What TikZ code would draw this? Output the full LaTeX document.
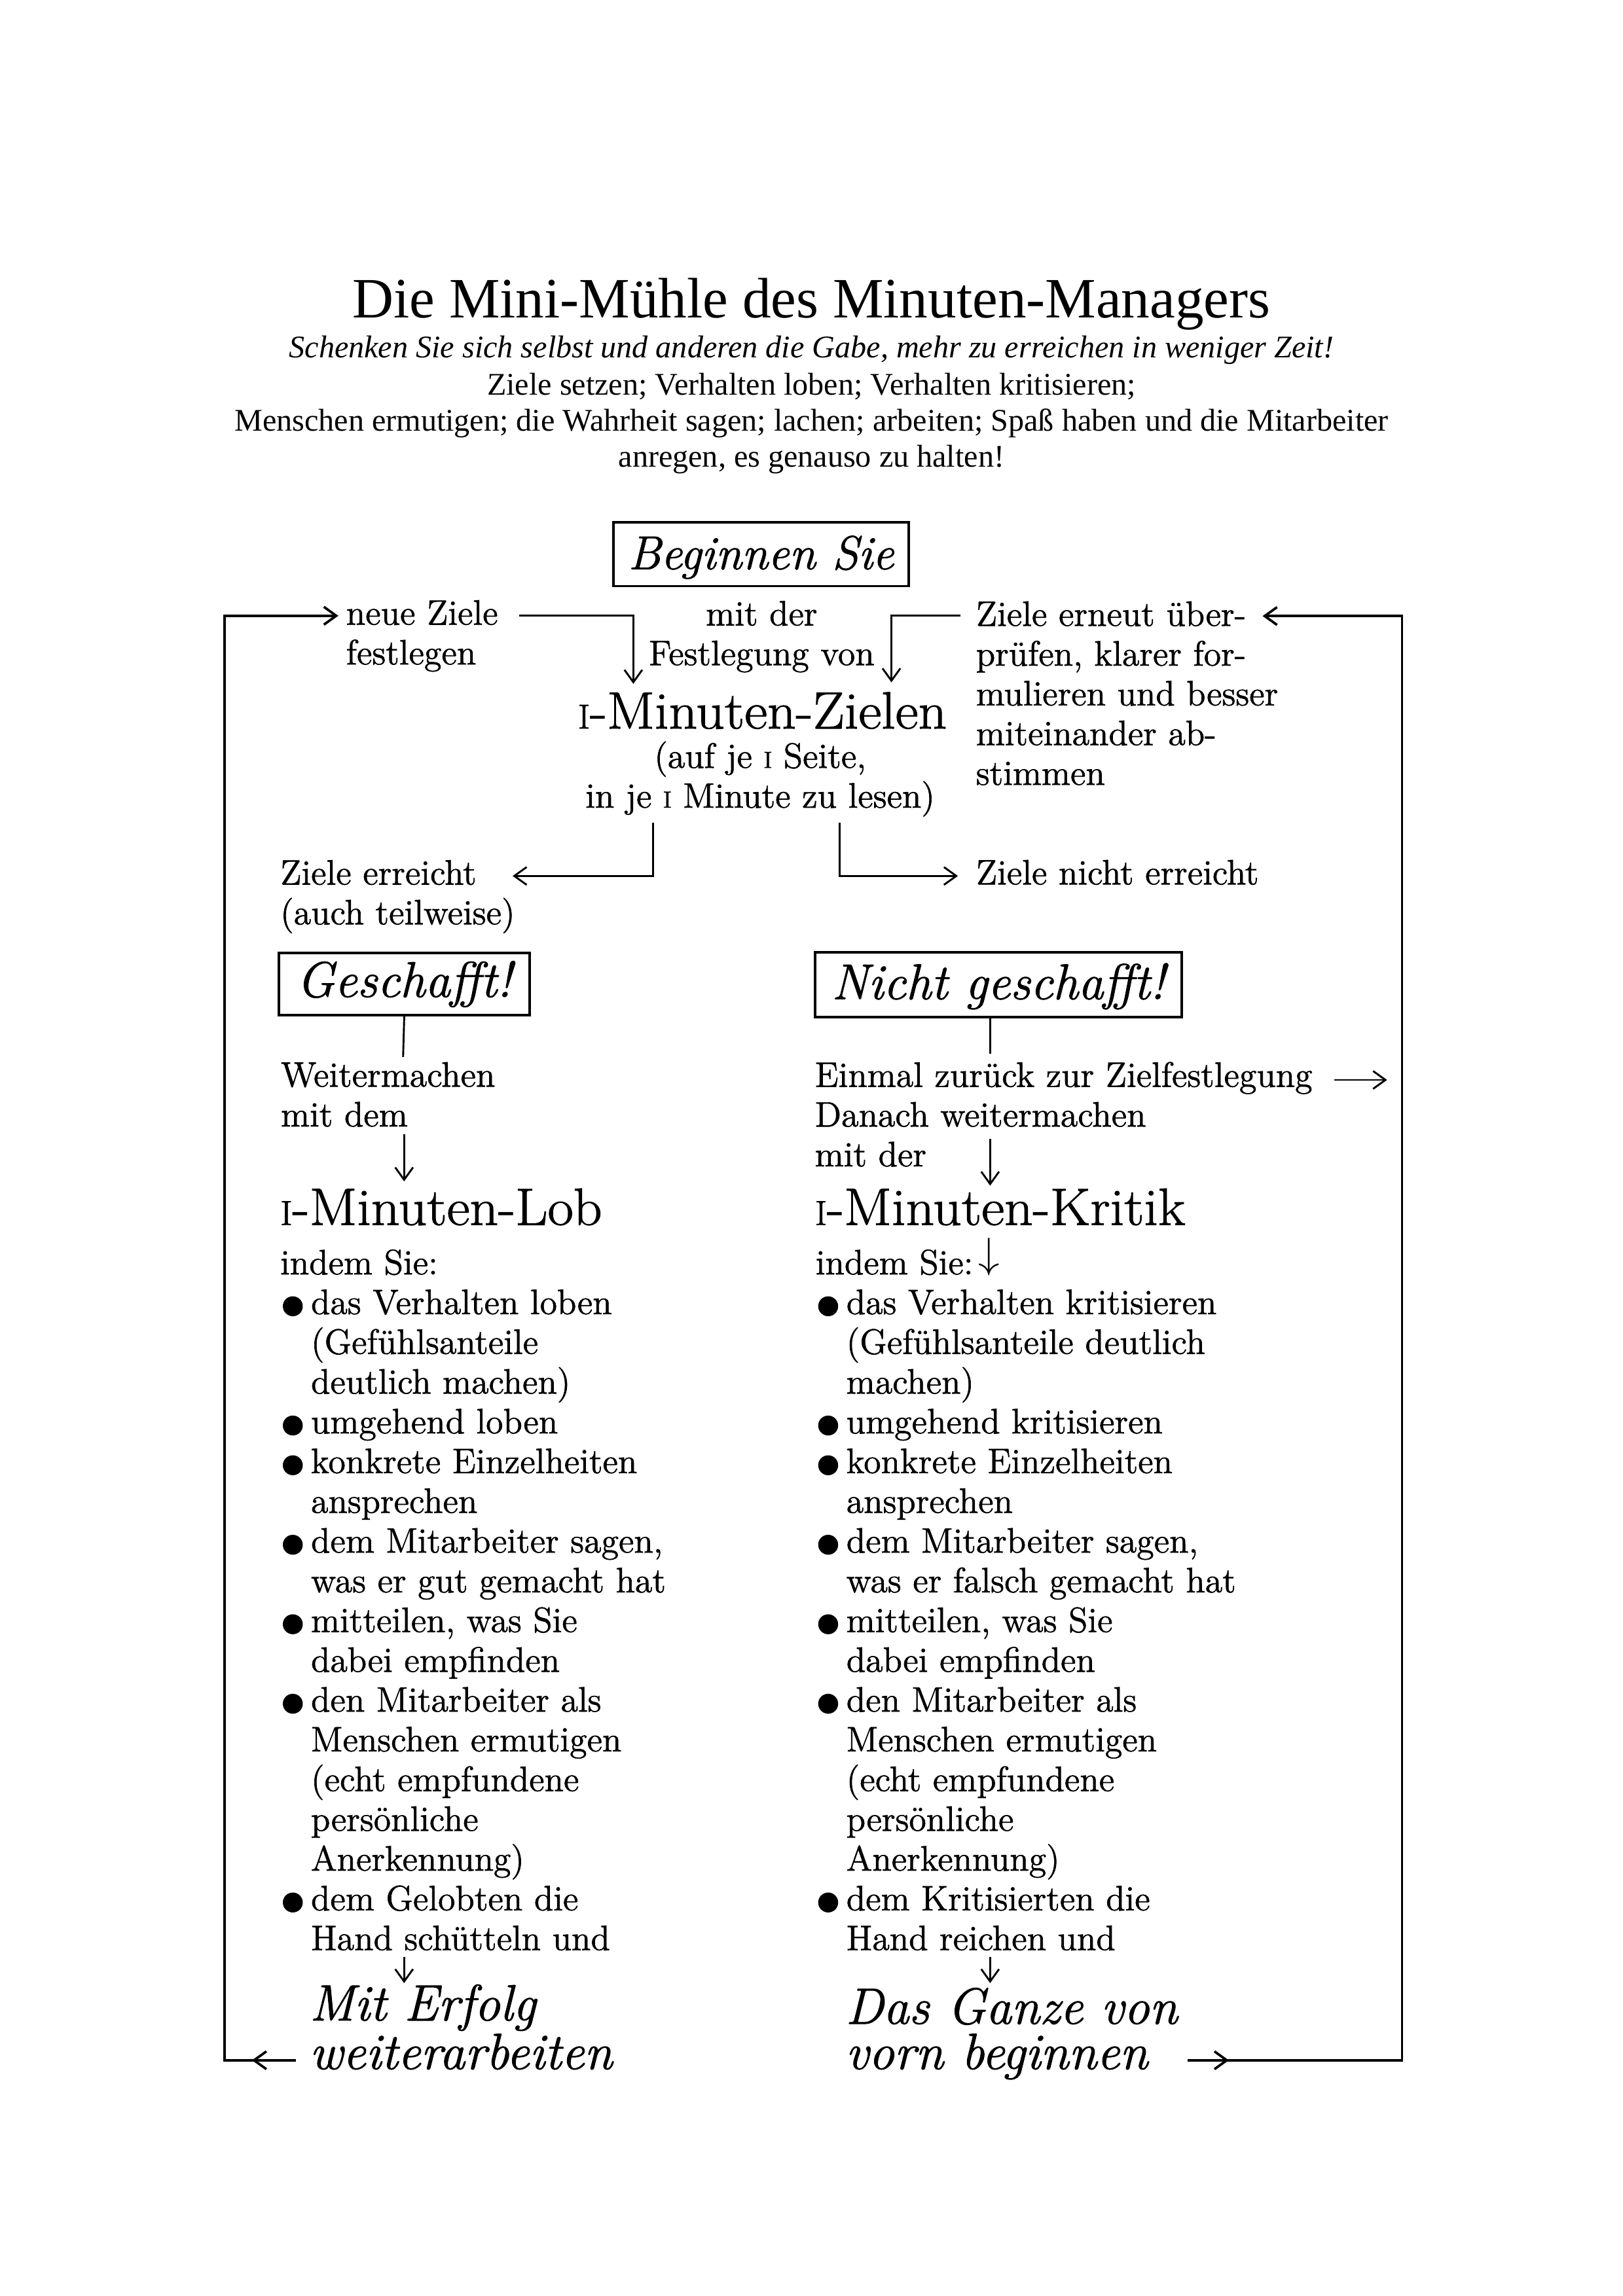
\documentclass[tikz,border=0pt]{standalone}
\usepackage{fontspec}
\usepackage{graphicx}
\usetikzlibrary{arrows.meta}
\newfontfamily\bodyf{Latin Modern Roman}[FakeBold=1.2]
\newfontfamily\bigf{Latin Modern Roman}[FakeBold=1.3,FakeStretch=1.07]
\newfontfamily\hdr{Liberation Serif}
\newcommand\one{\scalebox{0.66}{I}}
\newcommand\bi{\makebox[11.3pt][l]{\hspace{4.6pt}\makebox[0pt][c]{\raisebox{-0.26em}{\scalebox{2.0}{\textbullet}}}}}
\newcommand\ci{\hspace*{11.3pt}}
\begin{document}
\begin{tikzpicture}[x=0.18943mm,y=-0.18943mm,
  body/.style={font=\bodyf\fontsize{13}{14.63}\selectfont, inner sep=0pt},
  bigt/.style={font=\bigf\fontsize{19.3}{20}\selectfont, inner sep=0pt},
  ital/.style={font=\bodyf\itshape\fontsize{18.8}{16.65}\selectfont, inner sep=0pt},
  hd/.style={font=\hdr\fontsize{11.6}{13.3}\selectfont, inner sep=0pt},
  boxn/.style={draw, line width=0.9pt, inner xsep=0pt, inner ysep=0pt, anchor=north west,
    font=\bodyf\itshape\fontsize{18.5}{20}\selectfont},
  loopline/.style={line width=0.9pt},
  conn/.style={line width=0.7pt},
  arrowtip/.style={-{Straight Barb[length=1.6mm,width=2.3mm]}},
]
\useasboundingbox (0,0) rectangle (1108,1568);
\fill[white] (0,0) rectangle (1108,1568);

% header (multi-line nodes are placed by the baseline of their last line)
\node[font=\hdr\fontsize{21}{24}\selectfont, inner sep=0pt, anchor=base] (title) at (554,217.2) {Die Mini-Mühle des Minuten-Managers};
\node[font=\hdr\itshape\fontsize{11.6}{13.3}\selectfont, inner sep=0pt, anchor=base] (sub1) at (554,244.3) {Schenken Sie sich selbst und anderen die Gabe, mehr zu erreichen in weniger Zeit!};
\node[hd, anchor=base, align=center] (sub2) at (554,318.9) {Ziele setzen; Verhalten loben; Verhalten kritisieren;\\Menschen ermutigen; die Wahrheit sagen; lachen; arbeiten; Spaß haben und die Mitarbeiter\\anregen, es genauso zu halten!};

% boxes
\node[boxn, minimum width=38.17mm, text height=17.18pt, text depth=6.23pt, font=\bodyf\itshape\fontsize{17.5}{20}\selectfont] (begin) at (418,356) {Beginnen Sie};
\node[boxn, minimum width=32.45mm, text height=16.22pt, text depth=6.66pt] (gesch) at (189.5,649.9) {Geschafft!};
\node[boxn, minimum width=47.41mm, text height=17.24pt, text depth=6.55pt] (nicht) at (555.6,649.5) {Nicht geschafft!};

% upper texts
\node[body, anchor=base west, align=left] (nz) at (236,453.75) {neue Ziele\\festlegen};
\node[body, anchor=base, align=center] (mdf) at (520,454.25) {mit der\\Festlegung von};
\node[body, anchor=base west, align=left] (ze) at (666,536) {Ziele erneut über-\\prüfen, klarer for-\\mulieren und besser\\miteinander ab-\\stimmen};
\node[bigt, anchor=base] (zielen) at (520.5,497.5) {\one-Minuten-Zielen};
\node[body, anchor=base, align=center] (seite) at (519,551.55) {(auf je \one\ Seite,\\in je \one\ Minute zu lesen)};
\node[body, anchor=base west, align=left] (zer) at (191,631.25) {Ziele erreicht\\(auch teilweise)};
\node[body, anchor=base west] (zner) at (666,604) {Ziele nicht erreicht};

% middle texts
\node[body, anchor=base west, align=left] (weiter) at (191.4,769.25) {Weitermachen\\mit dem};
\node[body, anchor=base west, align=left] (einmal) at (556,796.5) {Einmal zurück zur Zielfestlegung\\Danach weitermachen\\mit der};
\node[bigt, anchor=base west] (lob) at (191,836.5) {\one-Minuten-Lob};
\node[bigt, anchor=base west] (kritik) at (556,836.5) {\one-Minuten-Kritik};

% lists
\node[body, anchor=base west, align=left] (lobl) at (191,1331.75) {indem Sie:\\
\bi das Verhalten loben\\
\ci(Gefühlsanteile\\
\ci deutlich machen)\\
\bi umgehend loben\\
\bi konkrete Einzelheiten\\
\ci ansprechen\\
\bi dem Mitarbeiter sagen,\\
\ci was er gut gemacht hat\\
\bi mitteilen, was Sie\\
\ci dabei empfinden\\
\bi den Mitarbeiter als\\
\ci Menschen ermutigen\\
\ci(echt empfundene\\
\ci persönliche\\
\ci Anerkennung)\\
\bi dem Gelobten die\\
\ci Hand schütteln und};
\node[body, anchor=base west, align=left] (kritl) at (556.5,1331.75) {indem Sie:\hspace{2pt}\raisebox{0.2em}{\scalebox{1.3}{$\downarrow$}}\\
\bi das Verhalten kritisieren\\
\ci(Gefühlsanteile deutlich\\
\ci machen)\\
\bi umgehend kritisieren\\
\bi konkrete Einzelheiten\\
\ci ansprechen\\
\bi dem Mitarbeiter sagen,\\
\ci was er falsch gemacht hat\\
\bi mitteilen, was Sie\\
\ci dabei empfinden\\
\bi den Mitarbeiter als\\
\ci Menschen ermutigen\\
\ci(echt empfundene\\
\ci persönliche\\
\ci Anerkennung)\\
\bi dem Kritisierten die\\
\ci Hand reichen und};

% final texts
\node[ital, anchor=base west, align=left] (erfolg) at (211,1413) {Mit Erfolg\\weiterarbeiten};
\node[ital, anchor=base west, align=left] (ganze) at (577,1413) {Das Ganze von\\vorn beginnen};

% coordinates
\coordinate (a1) at (354.6,420.5); \coordinate (a1e) at (432.4,467);
\coordinate (a2) at (655.5,420.5); \coordinate (a2e) at (608.6,466);
\coordinate (b1) at (445.7,561.7); \coordinate (b1e) at (350,598.2);
\coordinate (b2) at (573.3,561.7); \coordinate (b2e) at (654,598.2);
\coordinate (g1e) at (275.2,721.8);
\coordinate (n1s) at (676,693.8); \coordinate (n1e) at (676,719.6);
\coordinate (g2s) at (275.9,774.6); \coordinate (g2e) at (275.9,806.8);
\coordinate (n2s) at (676,777.7); \coordinate (n2e) at (676,809.7);
\coordinate (g3s) at (275.9,1336.4); \coordinate (g3e) at (275.9,1354.3);
\coordinate (n3s) at (676,1336.4); \coordinate (n3e) at (676,1354.3);
\coordinate (e1) at (911,737.5); \coordinate (e2) at (947,737.5);
\coordinate (L0) at (202,1407); \coordinate (L1) at (172,1407);
\coordinate (Lc1) at (153.2,1407); \coordinate (Lc2) at (153.2,420.5); \coordinate (L2) at (231,420.5);
\coordinate (R0) at (811,1407); \coordinate (R1) at (839,1407);
\coordinate (Rc1) at (957.2,1407); \coordinate (Rc2) at (957.2,420.7); \coordinate (R2) at (862,420.7);

% connectors
\draw[conn,arrowtip] (a1) -| (a1e);
\draw[conn,arrowtip] (a2) -| (a2e);
\draw[conn,arrowtip] (b1) |- (b1e);
\draw[conn,arrowtip] (b2) |- (b2e);
\draw[conn] (gesch.south) -- (g1e);
\draw[conn] (n1s) -- (n1e);
\draw[conn,arrowtip] (g2s) -- (g2e);
\draw[conn,arrowtip] (n2s) -- (n2e);
\draw[conn,arrowtip] (g3s) -- (g3e);
\draw[conn,arrowtip] (n3s) -- (n3e);
\draw[conn,arrowtip] (e1) -- (e2);
\draw[loopline,arrowtip] (L0) -- (L1);
\draw[loopline,arrowtip] (L0) -- (Lc1) -- (Lc2) -- (L2);
\draw[loopline,arrowtip] (R0) -- (R1);
\draw[loopline,arrowtip] (R0) -- (Rc1) -- (Rc2) -- (R2);
\end{tikzpicture}
\end{document}
